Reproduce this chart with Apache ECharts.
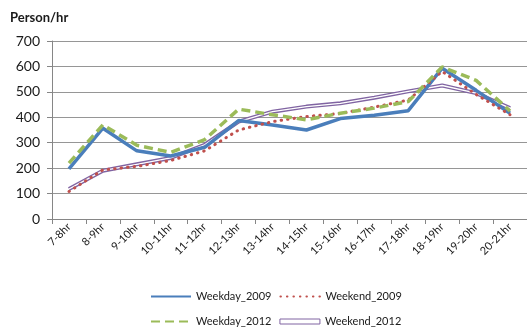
<!DOCTYPE html>
<html>
<head>
<meta charset="utf-8">
<script src="https://cdn.jsdelivr.net/npm/echarts@6/dist/echarts.min.js"></script>
<style>
html,body{margin:0;padding:0;background:#fff;}
#chart{width:527px;height:327px;}
</style>
</head>
<body>
<div id="chart"></div>
<script>
var categories = ['7-8hr','8-9hr','9-10hr','10-11hr','11-12hr','12-13hr','13-14hr','14-15hr','15-16hr','16-17hr','17-18hr','18-19hr','19-20hr','20-21hr'];
var weekday2009 = [197, 357, 268, 248, 282, 387, 370, 350, 395, 408, 426, 593, 506, 416];
var weekend2009 = [108, 193, 207, 230, 268, 350, 383, 403, 415, 440, 468, 580, 490, 410];
var weekday2012 = [220, 370, 290, 262, 312, 432, 410, 390, 416, 436, 462, 598, 545, 425];
var weekend2012 = [118, 190, 215, 240, 292, 383, 422, 442, 455, 477, 502, 525, 495, 436];
var yTicks = [0, 100, 200, 300, 400, 500, 600, 700];

var FONT = 'Lato, "Open Sans", sans-serif';
var chart = echarts.init(document.getElementById('chart'), null, {renderer: 'canvas'});
var legendText = {fontFamily: FONT, fontSize: 11, color: '#1a1a1a'};
chart.setOption({
  animation: false,
  backgroundColor: '#fff',
  title: {
    text: 'Person/hr', left: 5, top: 6,
    textStyle: {fontFamily: FONT, fontSize: 13, fontWeight: 'bold', color: '#1a1a1a'}
  },
  legend: [
    {
      data: ['Weekday_2009', 'Weekend_2009'],
      left: 145, top: 286, itemWidth: 40, itemHeight: 6, itemGap: 8,
      itemStyle: {opacity: 0},
      textStyle: legendText
    },
    {
      data: [{name: 'Weekday_2012', itemStyle: {opacity: 0}}, {name: 'Weekend_2012', icon: 'rect',
        itemStyle: {color: '#fff', borderColor: '#8064A2', borderWidth: 1, opacity: 1}}],
      left: 145, top: 311, itemWidth: 40, itemHeight: 5, itemGap: 8,
      textStyle: legendText
    }
  ],
  grid: {left: 52, right: 0, top: 41, bottom: 108, containLabel: false},
  xAxis: {
    type: 'category', data: categories, boundaryGap: true,
    axisLine: {lineStyle: {color: '#868686', width: 1}},
    axisTick: {show: true, length: 5, lineStyle: {color: '#868686'}},
    axisLabel: {rotate: 45, fontFamily: FONT, fontSize: 11, color: '#1a1a1a', margin: 6, interval: 0}
  },
  yAxis: {
    type: 'value', min: yTicks[0], max: yTicks[yTicks.length - 1], interval: 100,
    axisLine: {show: true, lineStyle: {color: '#868686', width: 1}},
    axisTick: {show: true, length: 5, lineStyle: {color: '#868686'}},
    splitLine: {show: true, lineStyle: {color: '#969696', width: 1}},
    axisLabel: {fontFamily: FONT, fontSize: 14, color: '#1a1a1a', margin: 12}
  },
  series: [
    {
      name: 'Weekend_2012', type: 'line', data: weekend2012, symbol: 'none', z: 2,
      lineStyle: {color: '#8064A2', width: 4}, itemStyle: {color: '#8064A2'}
    },
    {
      name: 'Weekend_2012_inner', type: 'line', data: weekend2012, symbol: 'none', z: 3,
      lineStyle: {color: '#ffffff', width: 1.3}, itemStyle: {color: '#ffffff'}
    },
    {
      name: 'Weekday_2009', type: 'line', data: weekday2009, symbol: 'none', z: 4,
      lineStyle: {color: '#4A7EBB', width: 3.5}, itemStyle: {color: '#4A7EBB'}
    },
    {
      name: 'Weekend_2009', type: 'line', data: weekend2009, symbol: 'none', z: 5,
      lineStyle: {color: '#C0504D', width: 3, type: [0.5, 6], cap: 'round'}, itemStyle: {color: '#C0504D'}
    },
    {
      name: 'Weekday_2012', type: 'line', data: weekday2012, symbol: 'none', z: 6,
      lineStyle: {color: '#9BBB59', width: 3.5, type: [9, 5]}, itemStyle: {color: '#9BBB59'}
    }
  ]
});
</script>
</body>
</html>
